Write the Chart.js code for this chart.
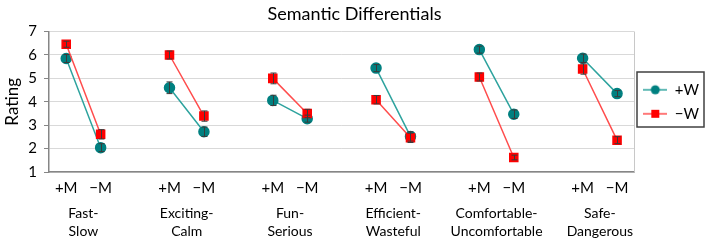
<!DOCTYPE html>
<html lang="en">
<head>
<meta charset="UTF-8">
<title>Semantic Differentials</title>
<style>
  html, body { margin: 0; padding: 0; background: #fff; }
  #wrap { width: 709px; height: 242px; }
</style>
<script src="https://cdn.jsdelivr.net/npm/chart.js"></script>
</head>
<body>
<div id="wrap"><canvas id="chart" width="709" height="242"></canvas></div>
<script>
// Groups (two-line labels) and the two conditions inside each group
const groupLabels = [
  ['Fast-', 'Slow'],
  ['Exciting-', 'Calm'],
  ['Fun-', 'Serious'],
  ['Efficient-', 'Wasteful'],
  ['Comfortable-', 'Uncomfortable'],
  ['Safe-', 'Dangerous']
];
const conditionLabels = ['+M', '\u2212M'];

// Mean ratings, ordered group by group: [+M, -M, +M, -M, ...]
const plusW     = [5.85, 2.04, 4.60, 2.72, 4.06, 3.28, 5.44, 2.52, 6.23, 3.47, 5.86, 4.35];
const plusWErr  = [0.17, 0.17, 0.25, 0.20, 0.22, 0.15, 0.15, 0.20, 0.15, 0.18, 0.18, 0.13];
const minusW    = [6.46, 2.61, 6.00, 3.39, 5.00, 3.50, 4.09, 2.46, 5.06, 1.62, 5.40, 2.36];
const minusWErr = [0.13, 0.20, 0.17, 0.22, 0.23, 0.18, 0.18, 0.20, 0.17, 0.10, 0.22, 0.15];

const yTicks = [1, 2, 3, 4, 5, 6, 7];

const FONT = 'Lato, "Open Sans", sans-serif';
const TEAL = '#008080', TEAL_LINE = '#2ea39e';
const RED = '#ff0000', RED_LINE = '#ff4d4d';

// each group takes 3 slots on the x axis: +M, -M, empty gap
function toPoints(values, errs) {
  const pts = [];
  groupLabels.forEach((g, i) => {
    pts.push({ x: i * 3, y: values[i * 2], err: errs[i * 2] });
    pts.push({ x: i * 3 + 1, y: values[i * 2 + 1], err: errs[i * 2 + 1] });
    if (i < groupLabels.length - 1) pts.push({ x: i * 3 + 2, y: null });
  });
  return pts;
}

const condTicks = [];
const groupTicks = [];
groupLabels.forEach((g, i) => {
  condTicks.push({ value: i * 3 }, { value: i * 3 + 1 });
  groupTicks.push({ value: i * 3 + 0.5 });
});

function legendIcon(line, fill, shape) {
  const c = document.createElement('canvas');
  c.width = 24; c.height = 12;
  const g = c.getContext('2d');
  g.strokeStyle = line; g.lineWidth = 1.5;
  g.beginPath(); g.moveTo(0, 6); g.lineTo(24, 6); g.stroke();
  g.fillStyle = fill;
  if (shape === 'circle') {
    g.beginPath(); g.arc(12, 6, 4.5, 0, Math.PI * 2); g.fill();
  } else {
    g.fillRect(8, 2, 8, 8);
  }
  return c;
}

// right edge of the plot frame
const frame = {
  id: 'frame',
  beforeDatasetsDraw(chart) {
    const { ctx, chartArea: a } = chart;
    ctx.save();
    ctx.strokeStyle = '#c8c8c8';
    ctx.lineWidth = 1;
    ctx.beginPath();
    ctx.moveTo(Math.round(a.right) + 0.5, a.top);
    ctx.lineTo(Math.round(a.right) + 0.5, a.bottom);
    ctx.stroke();
    ctx.restore();
  }
};

const errorBars = {
  id: 'errorBars',
  afterDatasetsDraw(chart) {
    const { ctx, scales: { x, y } } = chart;
    ctx.save();
    ctx.strokeStyle = '#3a3a3a';
    ctx.lineWidth = 1;
    chart.data.datasets.forEach(ds => {
      ds.data.forEach(p => {
        if (p.y == null) return;
        const px = Math.round(x.getPixelForValue(p.x)) + 0.5;
        const top = y.getPixelForValue(p.y + p.err);
        const bot = y.getPixelForValue(p.y - p.err);
        ctx.beginPath();
        ctx.moveTo(px, top); ctx.lineTo(px, bot);
        ctx.moveTo(px - 3, top); ctx.lineTo(px + 3, top);
        ctx.moveTo(px - 3, bot); ctx.lineTo(px + 3, bot);
        ctx.stroke();
      });
    });
    ctx.restore();
  }
};

const legendFrame = {
  id: 'legendFrame',
  afterDraw(chart) {
    const hb = chart.legend && chart.legend.legendHitBoxes;
    if (!hb || !hb.length) return;
    const { ctx } = chart;
    const first = hb[0], last = hb[hb.length - 1];
    const left = Math.min(...hb.map(b => b.left)) - 6;
    const right = Math.min(Math.max(...hb.map(b => b.left + b.width)) + 5, 705);
    const top = first.top - 10;
    const bottom = last.top + last.height + 6;
    ctx.save();
    ctx.strokeStyle = '#404040';
    ctx.lineWidth = 1.5;
    ctx.strokeRect(Math.round(left), Math.round(top), Math.round(right - left), Math.round(bottom - top));
    ctx.restore();
  }
};

new Chart(document.getElementById('chart'), {
  type: 'line',
  data: {
    datasets: [
      {
        label: '+W',
        data: toPoints(plusW, plusWErr),
        borderColor: TEAL_LINE,
        backgroundColor: TEAL,
        pointBackgroundColor: TEAL,
        pointBorderColor: TEAL,
        pointStyle: 'circle',
        pointRadius: 5,
        borderWidth: 1.5,
        spanGaps: false,
        order: 2
      },
      {
        label: '\u2212W',
        data: toPoints(minusW, minusWErr),
        borderColor: RED_LINE,
        backgroundColor: RED,
        pointBackgroundColor: RED,
        pointBorderColor: RED,
        pointStyle: 'rect',
        pointRadius: 5.7,
        borderWidth: 1.5,
        spanGaps: false,
        order: 1
      }
    ]
  },
  options: {
    responsive: false,
    animation: false,
    layout: { padding: 0 },
    plugins: {
      title: {
        display: true,
        text: 'Semantic Differentials',
        color: '#000',
        font: { family: FONT, size: 18, weight: 'normal' },
        padding: { top: 3, bottom: 7 }
      },
      legend: {
        position: 'right',
        fullSize: false,
        labels: {
          usePointStyle: true,
          pointStyleWidth: 24,
          padding: 9,
          color: '#000',
          font: { family: FONT, size: 15 },
          generateLabels: () => [
            { text: '+W', pointStyle: legendIcon(TEAL_LINE, TEAL, 'circle'), fillStyle: TEAL, strokeStyle: TEAL, lineWidth: 0, hidden: false, datasetIndex: 0 },
            { text: '\u2212W', pointStyle: legendIcon(RED_LINE, RED, 'rect'), fillStyle: RED, strokeStyle: RED, lineWidth: 0, hidden: false, datasetIndex: 1 }
          ]
        }
      },
      tooltip: { enabled: false }
    },
    scales: {
      x: {
        type: 'linear',
        position: 'bottom',
        min: -0.5,
        max: 16.5,
        afterBuildTicks: s => { s.ticks = condTicks.map(t => ({ value: t.value })); },
        afterFit: s => { s.height = 24; },
        grid: { display: false, drawTicks: false },
        border: { color: '#868686', width: 1.5 },
        ticks: {
          autoSkip: false,
          maxRotation: 0,
          padding: 7,
          color: '#000',
          font: { family: FONT, size: 15 },
          callback: v => conditionLabels[Math.round(v) % 3]
        }
      },
      groups: {
        type: 'linear',
        position: 'bottom',
        weight: 1,
        min: -0.5,
        max: 16.5,
        afterBuildTicks: s => { s.ticks = groupTicks.map(t => ({ value: t.value })); },
        afterFit: s => { s.height = 46; },
        grid: { display: false, drawTicks: false },
        border: { display: false },
        ticks: {
          autoSkip: false,
          maxRotation: 0,
          padding: 8,
          color: '#000',
          font: { family: FONT, size: 14, lineHeight: 1.29 },
          callback: v => groupLabels[Math.round((v - 0.5) / 3)]
        }
      },
      y: {
        min: 1,
        max: 7,
        afterBuildTicks: s => { s.ticks = yTicks.map(v => ({ value: v })); },
        afterFit: s => { s.width = 49; },
        grid: { color: '#d9d9d9', tickColor: '#868686', tickLength: 5 },
        border: { color: '#868686', width: 1.5 },
        ticks: { padding: 7, color: '#000', font: { family: FONT, size: 15 } },
        title: {
          display: true,
          text: 'Rating',
          color: '#000',
          font: { family: FONT, size: 17 },
          padding: { top: 2, bottom: 0 }
        }
      }
    }
  },
  plugins: [frame, errorBars, legendFrame]
});
</script>
</body>
</html>
